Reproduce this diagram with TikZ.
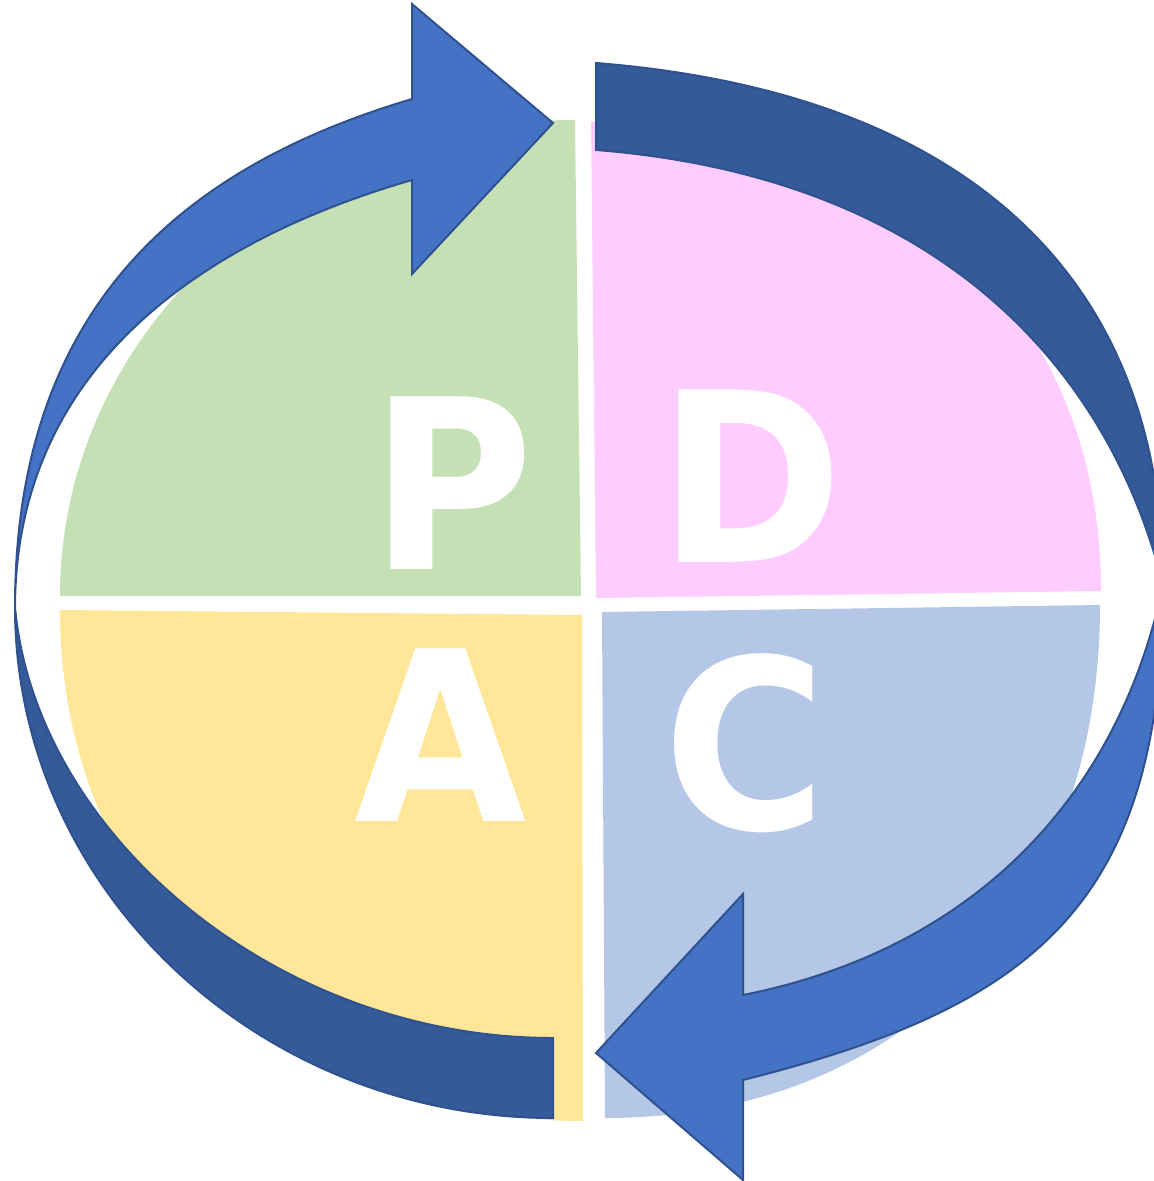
\documentclass[tikz,border=0pt]{standalone}
\usepackage{fontspec}
\newfontfamily\pdcafont{DejaVu Sans}
\usepackage{tikz}

\definecolor{plangreen}{HTML}{C5E0B4}
\definecolor{dopink}{HTML}{FFCCFF}
\definecolor{checkblue}{HTML}{B4C7E7}
\definecolor{actyellow}{HTML}{FFE699}
\definecolor{arrowlight}{HTML}{4472C4}
\definecolor{arrowdark}{HTML}{345A9A}
\definecolor{arrowedge}{HTML}{2F528F}

\begin{document}
\begin{tikzpicture}[x=0.5pt,y=-0.5pt,
    letter/.style={text=white,inner sep=0pt,anchor=base,xscale=0.94,
      font={\pdcafont\bfseries\fontsize{118.5}{120}\selectfont}},
    band/.style={draw=arrowedge,line width=1pt,line join=miter}]
              \useasboundingbox (0,0) rectangle (1154,1181);
              \clip (0,0) rectangle (1154,1181);

              %P
              \fill[plangreen] (60,596) -- (581,596) -- (575,120)
                .. controls (291,120) and (60,333) .. (60,596) -- cycle;
              %D
              \fill[dopink] (591,122) -- (596,598) -- (1101,591)
                .. controls (1101,310) and (897,122) .. (591,122) -- cycle;
              %A
              \fill[actyellow] (60,610) -- (582,615) -- (583,1121)
                .. controls (285,1121) and (60,901) .. (60,610) -- cycle;
              %C
              \fill[checkblue] (602,612) -- (1100,605)
                .. controls (1100,913) and (902,1118) .. (605,1118) -- cycle;

              \node[letter] (p) at (452,569) {P};
              \node[letter] (d) at (751,562) {D};
              \node[letter] (a) at (441,821) {A};
              \node[letter] (c) at (745,829) {C};

              %A>P (back)
              \filldraw[band,fill=arrowdark] (553,1038) -- (553,1118)
                .. controls (256,1118) and (15,887) .. (15,607)
                .. controls (35,832) and (274,1038) .. (553,1038) -- cycle;
              %A>P (front)
              \filldraw[band,fill=arrowlight] (412,99) -- (412,4) -- (553,123) -- (412,274) -- (412,180)
                .. controls (222,235) and (16,355) .. (15,607)
                .. controls (15,295) and (197,163) .. (412,99) -- cycle;

              %D>C (back)
              \filldraw[band,fill=arrowdark] (596,150) -- (596,63)
                .. controls (947,91) and (1163,261) .. (1163,585)
                .. controls (1108,365) and (936,177) .. (596,150) -- cycle;
              %D>C (front)
              \filldraw[band,fill=arrowlight] (743,995) -- (743,894) -- (596,1053) -- (743,1180) -- (743,1080)
                .. controls (1033,1007) and (1163,905) .. (1163,585)
                .. controls (1120,790) and (980,948) .. (743,995) -- cycle;
            \end{tikzpicture}
\end{document}
